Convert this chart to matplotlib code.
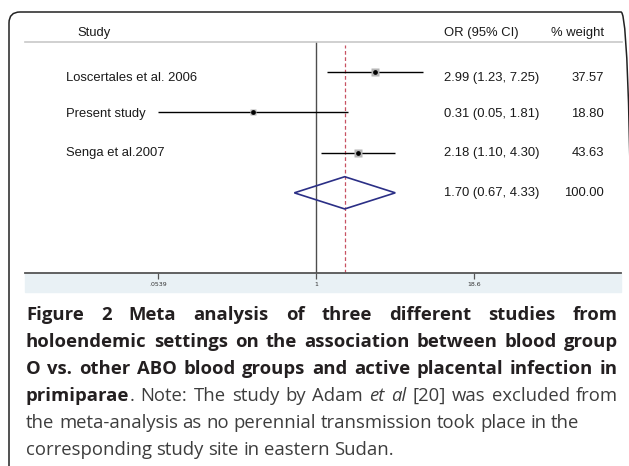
import matplotlib
matplotlib.use("Agg")
import matplotlib.pyplot as plt
from matplotlib.patches import FancyBboxPatch, Rectangle, Polygon
from matplotlib.lines import Line2D
from matplotlib.ticker import NullLocator
from matplotlib.transforms import IdentityTransform
import numpy as np

# data
studies = ["Loscertales et al. 2006", "Present study", "Senga et al.2007"]
odds = [2.99, 0.31, 2.18]
lower = [1.23, 0.05, 1.10]
upper = [7.25, 1.81, 4.30]
weights = [37.57, 18.80, 43.63]
pooled = 1.70
pooled_lo = 0.67
pooled_hi = 4.33
pooled_weight = 100.00
tick_vals = [0.0539, 1, 18.6]
tick_labels = [".0539", "1", "18.6"]

caption = [
    ("**Figure 2 Meta analysis of three different studies from**", True),
    ("**holoendemic settings on the association between blood group**", True),
    ("**O vs. other ABO blood groups and active placental infection in**", True),
    ("**primiparae**. Note: The study by Adam *et al* [20] was excluded from", True),
    ("the meta-analysis as no perennial transmission took place in the", False),
    ("corresponding study site in eastern Sudan.", False),
]

W, H = 629, 466
fig = plt.figure(figsize=(W / 100, H / 100), dpi=100)


def fx(px):
    return px / W


def fy(py):
    return 1 - py / H


plot_font = "Liberation Sans"
txt_col = "#1a1a1a"

# forest plot area
ax = fig.add_axes([fx(25), fy(273), 596 / W, (273 - 42) / H])
ax.set_xscale("log")
ax.set_xlim(0.00461, 281)
ax.set_ylim(4.99, -0.744)
ax.set_yticks([])
ax.set_xticks(tick_vals)
ax.set_xticklabels(tick_labels)
ax.xaxis.set_minor_locator(NullLocator())
ax.tick_params(axis="x", direction="out", length=4.3, width=0.9, color="#555555",
               labelsize=4.5, pad=2.5, labelcolor="#333333")
for s in ["top", "left", "right"]:
    ax.spines[s].set_visible(False)
ax.spines["bottom"].set_color("#555555")
ax.spines["bottom"].set_linewidth(1.3)

rows = np.arange(len(studies))
lo = np.clip(lower, tick_vals[0], tick_vals[-1])
hi = np.clip(upper, tick_vals[0], tick_vals[-1])

ax.axvline(1, color="#4d4d4d", lw=1)
ax.axvline(pooled, ymax=1 - 3 / 231, color="#c85262", lw=0.9, dashes=(3, 2))
ax.hlines(rows, lo, hi, color="black", lw=1)
for i in rows:
    ax.plot(odds[i], i, marker="s", ms=1.22 * np.sqrt(weights[i]) * 0.72,
            color="#b5b5b5", mec="none", zorder=3)
ax.plot(odds, rows, "o", ms=2.4, color="black", zorder=4)

prow = len(studies)
diamond = Polygon([[pooled_lo, prow], [pooled, prow - 0.4], [pooled_hi, prow], [pooled, prow + 0.4]],
                  closed=True, fill=False, ec="#2b2f86", lw=1.2, zorder=4)
ax.add_patch(diamond)

# axis strip + header line
fig.add_artist(Rectangle((fx(25), fy(292)), 596 / W, 19 / H, transform=fig.transFigure,
                         color="#e9f1f5", zorder=-1))
fig.add_artist(Line2D([fx(25), fx(622)], [fy(42), fy(42)], color="#c8c8c8", lw=1.2))

# border
fig.add_artist(FancyBboxPatch((9, -30), 623, H - 12 + 30, transform=IdentityTransform(),
                              boxstyle="round,pad=0,rounding_size=11", fill=False,
                              ec="#222222", lw=1.1))

# column text
fig.text(fx(77), fy(33), "Study", fontsize=9.4, family=plot_font, color=txt_col, va="center")
fig.text(fx(444), fy(33), "OR (95% CI)", fontsize=9.4, family=plot_font, color=txt_col, va="center")
fig.text(fx(604), fy(33), "% weight", fontsize=9.4, family=plot_font, color=txt_col, va="center", ha="right")

text_y = [78, 114, 153]
for i, name in enumerate(studies):
    fig.text(fx(66), fy(text_y[i]), name, fontsize=9.4, family=plot_font, color=txt_col, va="center")
    fig.text(fx(444), fy(text_y[i]), f"{odds[i]:.2f} ({lower[i]:.2f}, {upper[i]:.2f})",
             fontsize=9.4, family=plot_font, color=txt_col, va="center")
    fig.text(fx(604), fy(text_y[i]), f"{weights[i]:.2f}", fontsize=9.4, family=plot_font,
             color=txt_col, va="center", ha="right")
fig.text(fx(444), fy(193), f"{pooled:.2f} ({pooled_lo:.2f}, {pooled_hi:.2f})",
         fontsize=9.4, family=plot_font, color=txt_col, va="center")
fig.text(fx(604), fy(193), f"{pooled_weight:.2f}", fontsize=9.4, family=plot_font,
         color=txt_col, va="center", ha="right")


# caption, justified
def parse(line):
    words = []
    style = "n"
    for w in line.split(" "):
        pieces = []
        buf = ""
        i = 0
        while i < len(w):
            if w.startswith("**", i):
                if buf:
                    pieces.append((buf, style))
                    buf = ""
                style = "n" if style == "b" else "b"
                i += 2
            elif w[i] == "*":
                if buf:
                    pieces.append((buf, style))
                    buf = ""
                style = "n" if style == "i" else "i"
                i += 1
            else:
                buf += w[i]
                i += 1
        if buf:
            pieces.append((buf, style))
        words.append(pieces)
    return words


cap_font = "Open Sans"
cap_size = 13.3
renderer = fig.canvas.get_renderer()


def make(txt, st):
    kw = dict(fontsize=cap_size, family=cap_font, va="baseline")
    if st == "b":
        kw.update(fontweight="bold", color="#231f20")
    elif st == "i":
        kw.update(fontstyle="italic", color="#3d3d3d")
    else:
        kw.update(color="#3d3d3d")
    return fig.text(0, 0, txt, **kw)


left, right = 26, 618
base_y = 320
line_gap = 27
for k, (line, justify) in enumerate(caption):
    words = parse(line)
    built = []
    for pieces in words:
        arts = [make(t, s) for t, s in pieces]
        widths = [a.get_window_extent(renderer).width for a in arts]
        built.append((arts, widths))
    total = sum(sum(wd) for _, wd in built)
    if justify:
        gap = (right - left - total) / (len(built) - 1)
    else:
        gap = 4.6
    x = left
    y = base_y + k * line_gap
    for arts, widths in built:
        for a, wd in zip(arts, widths):
            a.set_position((fx(x), fy(y)))
            x += wd
        x += gap

fig.savefig("out.png", dpi=100)
